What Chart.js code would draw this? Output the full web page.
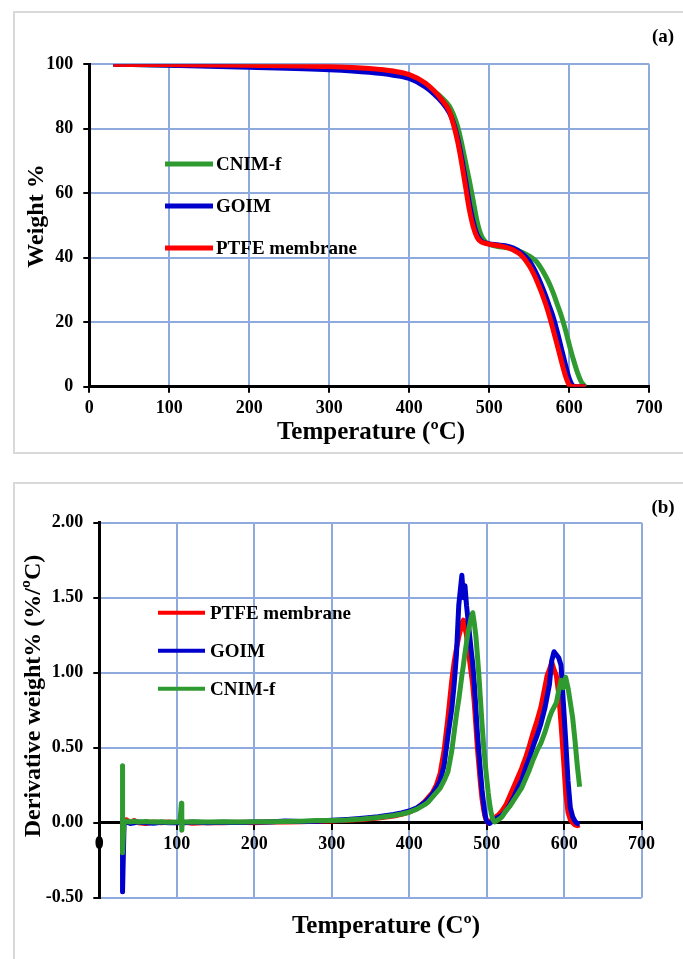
<!DOCTYPE html>
<html>
<head>
<meta charset="utf-8">
<script src="https://cdn.jsdelivr.net/npm/chart.js@4.4.1/dist/chart.umd.min.js"></script>
<style>
  body { margin: 0; background: #fff; overflow: hidden; width: 683px; height: 959px; }
  .frame { position: absolute; border: 2px solid #d9d9d9; box-sizing: border-box; }
  canvas { position: absolute; left: 0; }
</style>
</head>
<body>
<div class="frame" style="left:13px;top:11px;width:690px;height:443px"></div>
<div class="frame" style="left:13px;top:482px;width:690px;height:490px"></div>
<canvas id="tgaChart" style="top:0" width="683" height="470"></canvas>
<canvas id="dtgChart" style="top:470px" width="683" height="489"></canvas>
<script>
  // (a) TGA curves, weight % vs temperature
  var tgaTemp = [30, 100, 200, 300, 350, 380, 400, 420, 430, 440, 450, 455, 460, 465, 470, 475, 480, 485, 490, 495,
    500, 510, 520, 530, 540, 550, 560, 570, 575, 580, 585, 590, 595, 600, 605, 610, 615, 620];
  var tgaPTFE = [100, 99.9, 99.7, 99.3, 98.7, 97.9, 96.8, 94.2, 92, 89.2, 85.5, 81.5, 76.5, 70, 62.5, 55, 49.5, 46.2, 44.9, 44.5,
    44.2, 43.8, 43.3, 42.4, 40.8, 37.5, 32.5, 26, 22, 17.5, 12.8, 8, 3.5, 0.5, 0, 0, 0, 0];
  var tgaGOIM = [100, 99.7, 99.1, 98.3, 97.5, 96.6, 95.6, 93, 91, 88.5, 85, 82, 77.5, 71.5, 64.5, 57, 51, 47, 45.2, 44.6,
    44.3, 44, 43.7, 43, 41.5, 39, 34.5, 28.5, 25, 21.5, 17, 12, 7, 2.5, 0.2, 0, 0, 0];
  var tgaCNIM = [100, 99.8, 99.4, 98.9, 98.3, 97.5, 96.3, 93.5, 91.8, 89.8, 87, 84.5, 81, 76, 70, 64, 57.5, 51, 46.8, 45,
    44.2, 43.5, 43.2, 42.8, 41.8, 40.5, 38.5, 34.5, 32, 29, 25.5, 22, 17.8, 13, 8.5, 4.5, 1.5, 0];

  // (b) DTG curves, derivative weight vs temperature
  var dtgTemp = [30, 30, 32, 35, 40, 45, 50, 60, 70, 80, 90, 100, 104, 106, 106.5, 107, 110, 120, 140, 160,
    180, 200, 220, 240, 260, 280, 300, 320, 340, 360, 380, 390, 400, 410, 420, 425, 430, 435, 440, 445,
    450, 455, 458, 461, 464, 466, 468, 470, 472, 474, 476, 478, 480, 482, 484, 486, 488, 490, 492, 494,
    496, 498, 500, 502, 504, 506, 508, 510, 512, 515, 520, 525, 530, 535, 540, 545, 550, 555, 560, 565,
    570, 575, 578, 581, 584, 587, 590, 593, 596, 599, 602, 605, 608, 611, 614, 617, 620];
  var dtgPTFE = [0.02, 0, 0.01, 0.02, 0, 0.015, 0, -0.005, 0.005, 0, 0.004, 0, 0.003, 0, 0.002, 0, 0.003, -0.003, 0.002, 0,
    0.003, 0, 0.005, 0.004, 0.006, 0.01, 0.012, 0.016, 0.022, 0.032, 0.045, 0.056, 0.07, 0.095, 0.14, 0.17, 0.2, 0.25, 0.33, 0.48,
    0.7, 0.95, 1.07, 1.16, 1.24, 1.28, 1.33, 1.35, 1.3, 1.25, 1.15, 1.08, 1.0, 0.92, 0.8, 0.65, 0.5, 0.38, 0.26, 0.16,
    0.09, 0.04, 0.01, -0.005, 0.005, 0.015, 0.025, 0.03, 0.04, 0.05, 0.08, 0.12, 0.18, 0.24, 0.3, 0.36, 0.43, 0.51, 0.6, 0.68,
    0.77, 0.9, 0.98, 1.02, 1.07, 1.02, 0.98, 0.86, 0.66, 0.44, 0.2, 0.07, 0.02, 0, -0.015, -0.02, -0.015];
  var dtgGOIM = [0.02, -0.46, 0, 0.005, -0.005, 0, 0.005, 0, -0.003, 0.003, 0, 0.002, 0, 0.001, 0, 0.002, 0, 0.004, 0, 0.003,
    0.002, 0.005, 0.004, 0.012, 0.008, 0.01, 0.016, 0.022, 0.03, 0.04, 0.055, 0.065, 0.078, 0.1, 0.135, 0.16, 0.19, 0.23, 0.28, 0.38,
    0.58, 0.76, 0.92, 1.12, 1.45, 1.55, 1.65, 1.5, 1.58, 1.45, 1.35, 1.25, 1.15, 1.06, 0.93, 0.77, 0.6, 0.47, 0.34, 0.22,
    0.13, 0.05, 0.01, 0, -0.005, 0.005, 0.012, 0.02, 0.025, 0.035, 0.05, 0.08, 0.12, 0.17, 0.23, 0.28, 0.36, 0.43, 0.51, 0.58,
    0.66, 0.76, 0.84, 0.92, 1.08, 1.14, 1.12, 1.1, 1.05, 0.8, 0.55, 0.28, 0.1, 0.04, 0.01, -0.005, -0.01];
  var dtgCNIM = [0.38, -0.2, 0.01, 0.01, 0.005, 0.01, 0.005, 0.008, 0.004, 0.006, 0.003, 0.004, 0.004, 0.13, -0.05, 0.005, 0.004, 0.006, 0.004, 0.006,
    0.005, 0.006, 0.007, 0.008, 0.01, 0.014, 0.015, 0.018, 0.024, 0.034, 0.048, 0.058, 0.07, 0.09, 0.12, 0.14, 0.17, 0.2, 0.23, 0.28,
    0.34, 0.48, 0.6, 0.72, 0.82, 0.9, 0.98, 1.05, 1.13, 1.2, 1.27, 1.32, 1.37, 1.4, 1.33, 1.25, 1.12, 0.98, 0.82, 0.66,
    0.52, 0.4, 0.3, 0.2, 0.12, 0.06, 0.02, 0.005, 0.01, 0.02, 0.04, 0.08, 0.11, 0.15, 0.19, 0.23, 0.29, 0.35, 0.42, 0.48,
    0.53, 0.6, 0.65, 0.7, 0.74, 0.77, 0.8, 0.88, 0.95, 0.9, 0.97, 0.9, 0.8, 0.7, 0.55, 0.38, 0.24];

  var xTicks = [0, 100, 200, 300, 400, 500, 600, 700];

  var RED = '#ff0000', BLUE = '#0000cd', GREEN = '#2f9a2f';
  var GRID = '#8faadc';
  var SERIF = "'Liberation Serif', 'Times New Roman', serif";

  Chart.defaults.font.family = SERIF;
  Chart.defaults.font.weight = 'bold';
  Chart.defaults.font.size = 18;
  Chart.defaults.color = '#000';

  function toPoints(xs, ys) {
    return xs.map(function (x, i) { return { x: x, y: ys[i] }; });
  }

  // axis titles, panel tag and the legend, placed in canvas pixels
  var panelText = {
    id: 'panelText',
    afterDraw: function (chart, args, opts) {
      var ctx = chart.ctx;
      ctx.save();
      ctx.fillStyle = '#000';
      ctx.textAlign = 'center';
      ctx.textBaseline = 'middle';
      (opts.texts || []).forEach(function (t) {
        ctx.save();
        ctx.font = 'bold ' + t.size + 'px ' + SERIF;
        ctx.translate(t.x, t.y);
        if (t.rotate) ctx.rotate(-Math.PI / 2);
        ctx.fillText(t.text, 0, 0);
        ctx.restore();
      });
      var lg = opts.legend;
      if (lg) {
        ctx.font = 'bold ' + lg.size + 'px ' + SERIF;
        ctx.textAlign = 'left';
        lg.order.forEach(function (name, i) {
          var ds = chart.data.datasets.find(function (d) { return d.label === name; });
          var y = lg.y + i * lg.gap;
          ctx.strokeStyle = ds.borderColor;
          ctx.lineWidth = lg.lineWidth;
          ctx.beginPath();
          ctx.moveTo(lg.x1, y);
          ctx.lineTo(lg.x2, y);
          ctx.stroke();
          ctx.fillText(name, lg.textX, y + 1);
        });
      }
      ctx.restore();
    }
  };

  function axisStyle() {
    return {
      grid: { color: GRID, lineWidth: 2, tickColor: '#000', tickLength: 6 },
      border: { color: '#000', width: 3 }
    };
  }

  function lineSet(label, xs, ys, color, width, smooth) {
    return {
      label: label,
      data: toPoints(xs, ys),
      borderColor: color,
      backgroundColor: color,
      borderWidth: width,
      borderJoinStyle: 'round',
      pointRadius: 0,
      cubicInterpolationMode: smooth ? 'monotone' : 'default',
      tension: 0
    };
  }

  // ---- (a) ----
  var ax = axisStyle(), ay = axisStyle();
  new Chart(document.getElementById('tgaChart').getContext('2d'), {
    type: 'line',
    data: {
      datasets: [
        lineSet('PTFE membrane', tgaTemp, tgaPTFE, RED, 5, true),
        lineSet('GOIM', tgaTemp, tgaGOIM, BLUE, 5, true),
        lineSet('CNIM-f', tgaTemp, tgaCNIM, GREEN, 5, true)
      ]
    },
    options: {
      responsive: false,
      animation: false,
      layout: { padding: { top: 64.3, right: 33.7, left: 0, bottom: 0 } },
      plugins: {
        legend: { display: false },
        tooltip: { enabled: false },
        panelText: {
          texts: [
            { text: 'Weight %', x: 37, y: 216, size: 24, rotate: true },
            { text: 'Temperature (\u00baC)', x: 371, y: 433, size: 25 },
            { text: '(a)', x: 663, y: 37, size: 19 }
          ],
          legend: { order: ['CNIM-f', 'GOIM', 'PTFE membrane'], x1: 165, x2: 213, textX: 216, y: 164, gap: 42, size: 19, lineWidth: 5 }
        }
      },
      scales: {
        x: {
          type: 'linear', min: 0, max: 700,
          grid: ax.grid, border: ax.border,
          afterBuildTicks: function (s) { s.ticks = xTicks.map(function (v) { return { value: v }; }); },
          ticks: { padding: 5 },
          afterFit: function (s) { s.height = 83.3; }
        },
        y: {
          min: 0, max: 100,
          grid: ay.grid, border: ay.border,
          ticks: { stepSize: 20, padding: 10 },
          afterFit: function (s) { s.width = 89.3; }
        }
      }
    },
    plugins: [panelText]
  });

  // ---- (b) ----
  // the x axis sits at y = 0, so the room under the plot comes from the padding
  var bx = axisStyle(), by = axisStyle();
  new Chart(document.getElementById('dtgChart').getContext('2d'), {
    type: 'line',
    data: {
      datasets: [
        lineSet('CNIM-f', dtgTemp, dtgCNIM, GREEN, 5, false),
        lineSet('GOIM', dtgTemp, dtgGOIM, BLUE, 5, false),
        lineSet('PTFE membrane', dtgTemp, dtgPTFE, RED, 5, false)
      ]
    },
    options: {
      responsive: false,
      animation: false,
      layout: { padding: { top: 52.7, right: 41.4, left: 0, bottom: 61.3 } },
      plugins: {
        legend: { display: false },
        tooltip: { enabled: false },
        panelText: {
          texts: [
            { text: 'Derivative weight% (%/\u00baC)', x: 34, y: 226, size: 24, rotate: true },
            { text: 'Temperature (C\u00ba)', x: 386, y: 457, size: 25 },
            { text: '(b)', x: 663, y: 38, size: 19 }
          ],
          legend: { order: ['PTFE membrane', 'GOIM', 'CNIM-f'], x1: 158, x2: 205, textX: 210, y: 142.7, gap: 38, size: 19, lineWidth: 4 }
        }
      },
      scales: {
        x: {
          type: 'linear', min: 0, max: 700,
          position: { y: 0 },
          grid: bx.grid, border: bx.border,
          afterBuildTicks: function (s) { s.ticks = xTicks.map(function (v) { return { value: v }; }); },
          ticks: { padding: 5 },
          afterFit: function (s) { s.height = 0; }
        },
        y: {
          min: -0.5, max: 2,
          grid: by.grid, border: by.border,
          ticks: { stepSize: 0.5, padding: 10, callback: function (v) { return v.toFixed(2); } },
          afterFit: function (s) { s.width = 99.3; }
        }
      }
    },
    plugins: [panelText]
  });
</script>
</body>
</html>
